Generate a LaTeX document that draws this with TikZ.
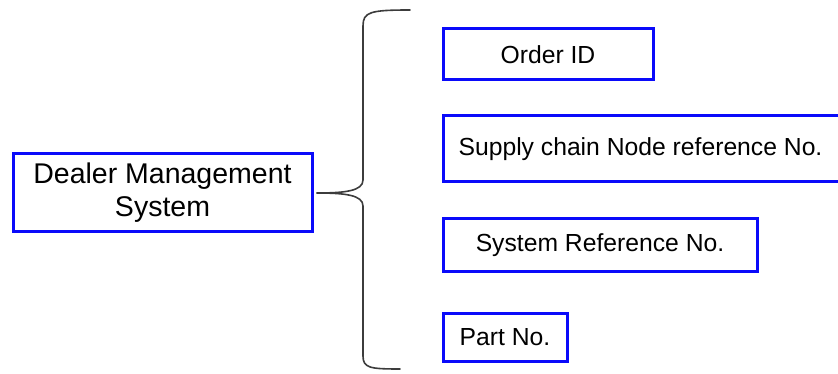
\documentclass[tikz,border=0pt]{standalone}
\usepackage{fontspec}
\setmainfont{Liberation Sans}
\definecolor{boxblue}{RGB}{10,10,250}
\definecolor{bracegray}{RGB}{60,60,60}
\begin{document}
\begin{tikzpicture}[x=1pt,y=-1pt,
  field/.style={draw=boxblue, line width=3pt, fill=white, inner sep=0pt,
    font=\fontsize{24.7}{30}\selectfont, text=black},
  mainbox/.style={field, font=\fontsize{28.5}{33}\selectfont, align=center},
  bracepath/.style={draw=bracegray, line width=1.6pt, line cap=round}]
  \useasboundingbox (0,0) rectangle (838,374);
  \clip (0,0) rectangle (838,374);

  % source system
  \node[mainbox, minimum width=299pt, minimum height=78pt] (dms) at (162.5,193)
    {Dealer Management\\System};

  % data fields (the second one runs past the right margin)
  \node[field, minimum width=210pt, minimum height=51pt] (oid) at (548,54.5) {Order ID};
  \node[field, minimum width=440pt, minimum height=66pt] (scn) at (663,149) {\hspace*{-45pt}Supply chain Node reference No.};
  \node[field, minimum width=314pt, minimum height=52pt] (srn) at (600,245) {System Reference No.};
  \node[field, minimum width=124pt, minimum height=48pt] (pno) at (505,337) {Part No.};

  % curly brace grouping the fields
  \coordinate (tip) at ([xshift=3pt]dms.east);
  \coordinate (btop) at (410,10);
  \coordinate (bbot) at (400,369);
  \path[bracepath] (btop) .. controls (370,10) and (363,12) .. (363,26)
    -- (363,180) .. controls (363,191) and (345,193) .. (tip)
    .. controls (345,193) and (363,195) .. (363,206)
    -- (363,356) .. controls (363,368) and (370,369) .. (bbot);
\end{tikzpicture}
\end{document}
